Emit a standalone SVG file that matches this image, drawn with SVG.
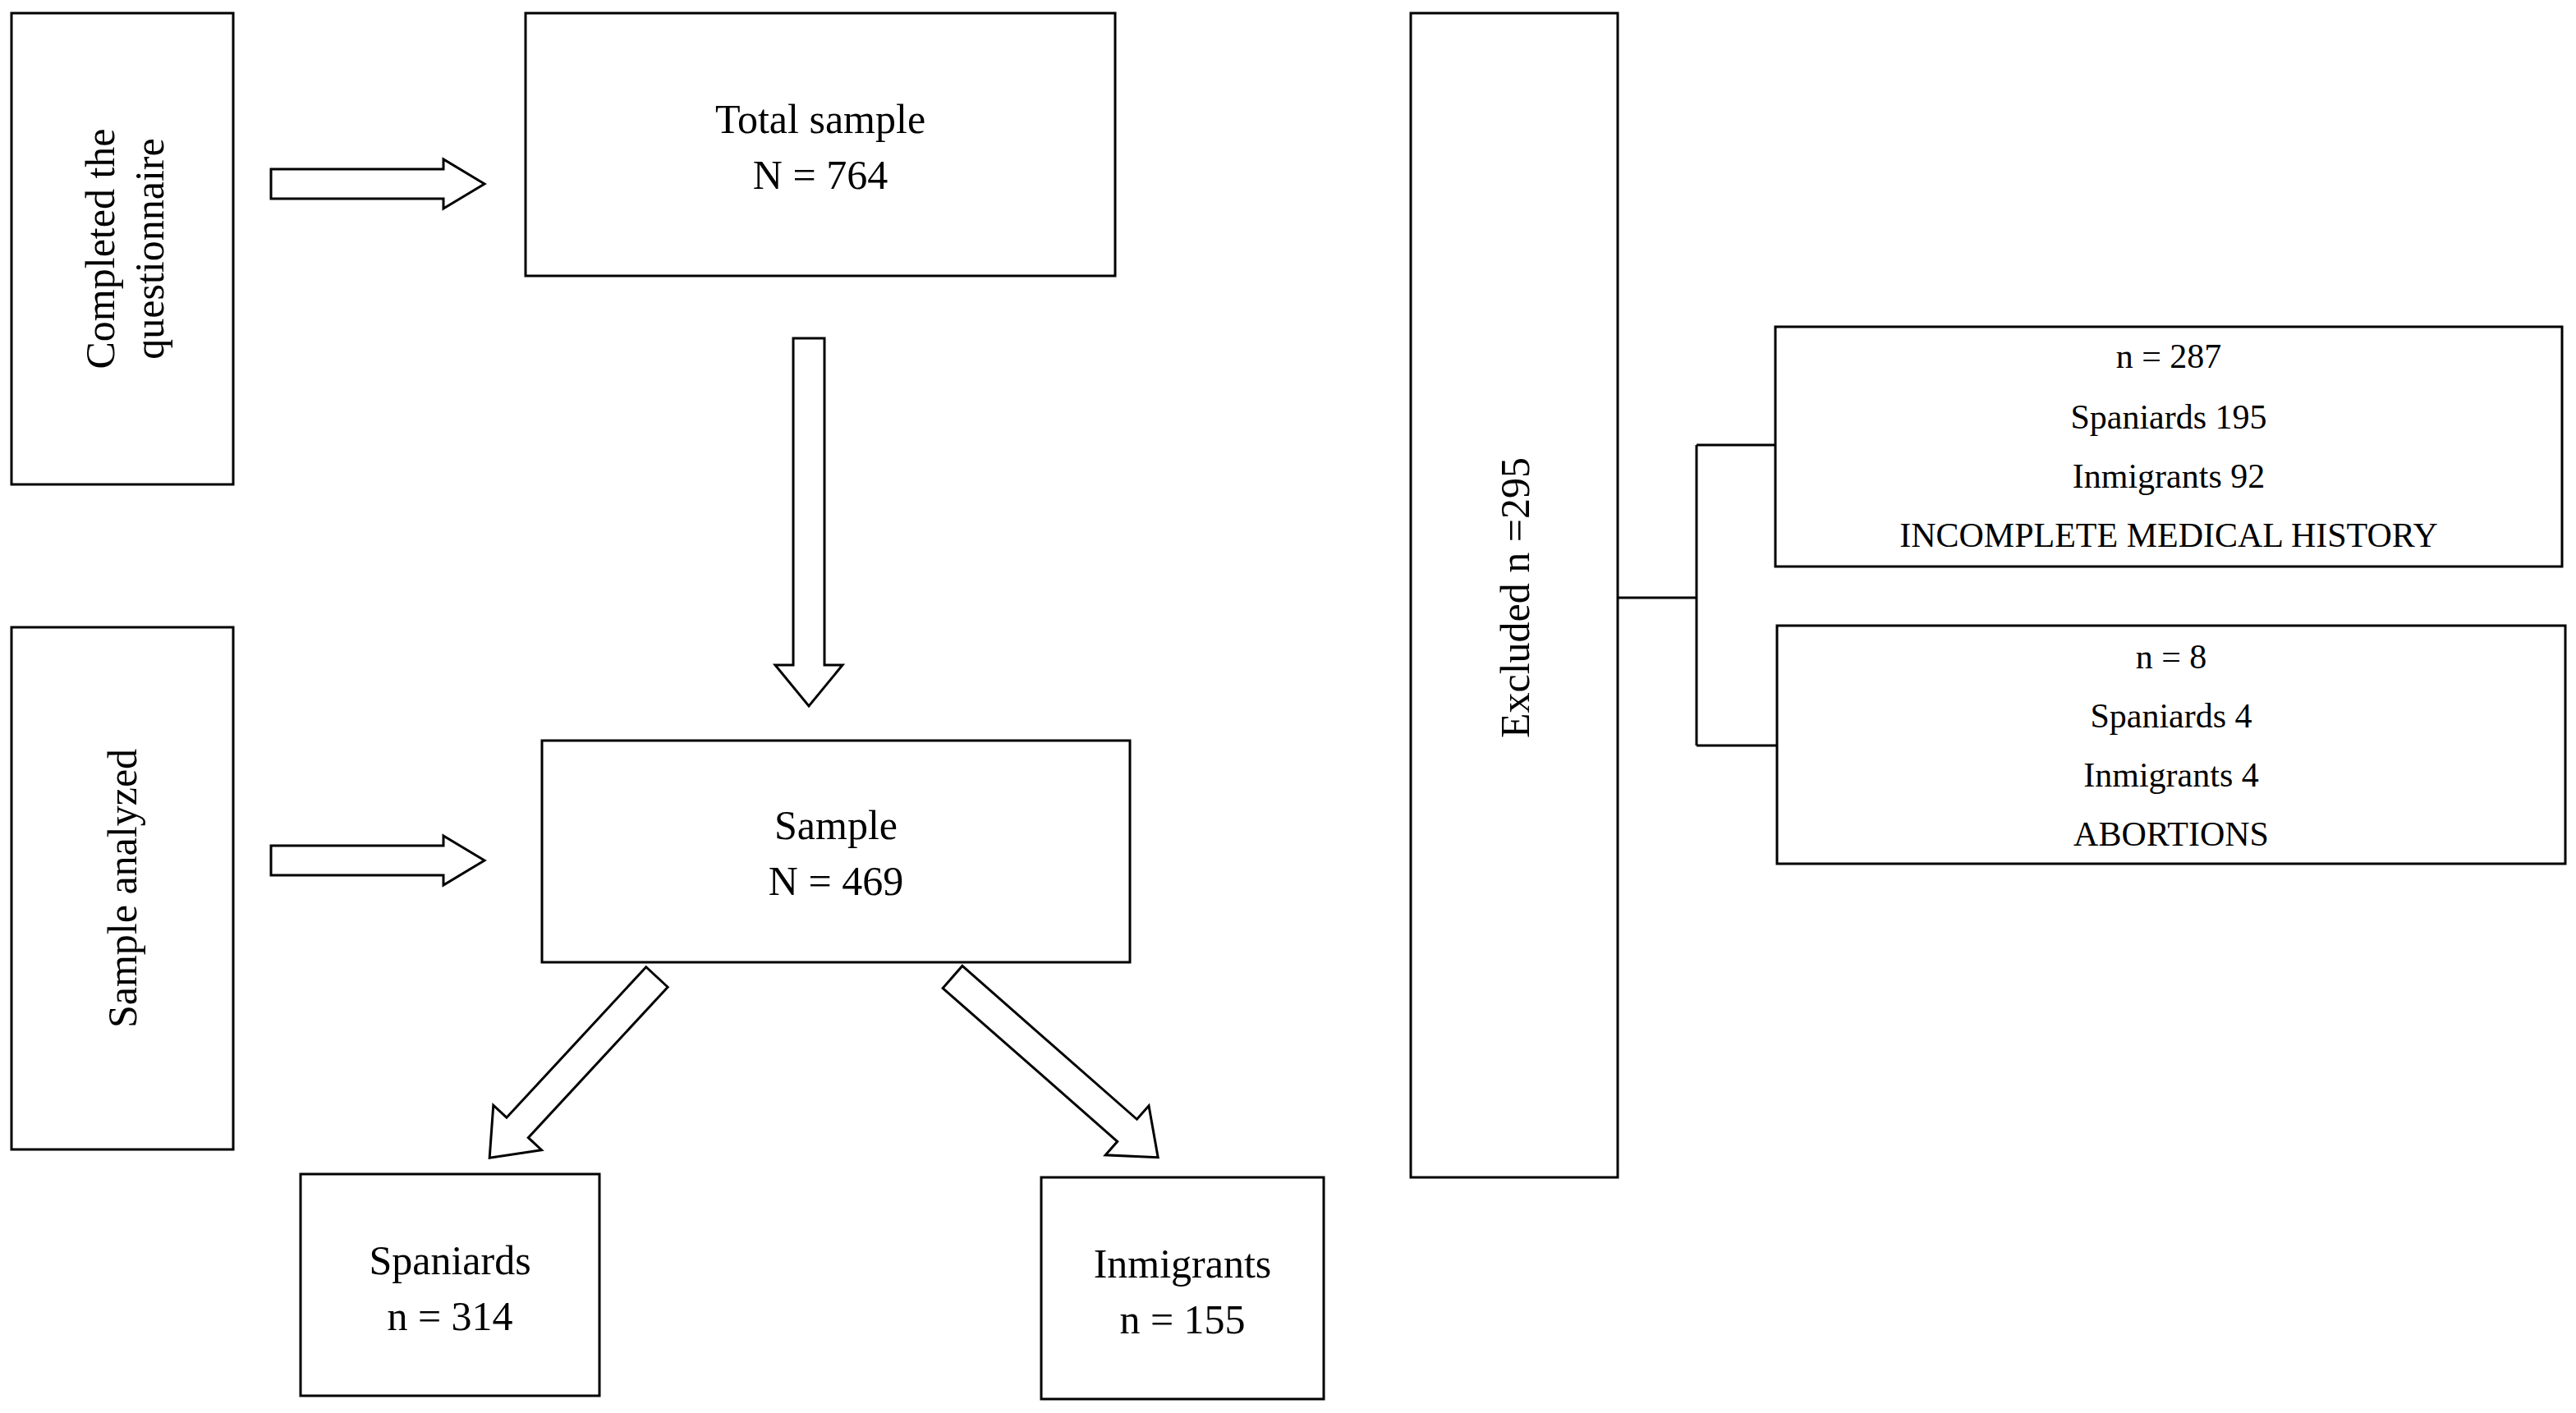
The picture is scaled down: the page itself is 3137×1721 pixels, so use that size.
<svg xmlns="http://www.w3.org/2000/svg" width="3137" height="1721" viewBox="0 0 3137 1721">
<style>
.b{fill:#fff;stroke:#000;stroke-width:3}
.a{fill:#fff;stroke:#000;stroke-width:3;stroke-linejoin:miter}
text{font-family:"Liberation Serif","Times New Roman",serif;fill:#000;text-anchor:middle}
.t{font-size:50px}
.s{font-size:42px}
.c{fill:none;stroke:#000;stroke-width:3}
</style>
<rect width="3137" height="1721" fill="#fff"/>
<g id="completed"><rect class="b" x="14" y="16" width="270" height="574"/>
<text class="t" transform="translate(149,303) rotate(-90)"><tspan x="0" y="-10">Completed the</tspan><tspan x="0" y="50">questionnaire</tspan></text></g>
<g id="total"><rect class="b" x="640" y="16" width="718" height="320"/>
<text class="t" x="999" y="162">Total sample</text><text class="t" x="999" y="230">N = 764</text></g>
<g id="analyzed"><rect class="b" x="14" y="764" width="270" height="636"/>
<text class="t" transform="translate(166,1082) rotate(-90)" x="0" y="0">Sample analyzed</text></g>
<g id="sample"><rect class="b" x="660" y="902" width="716" height="270"/>
<text class="t" x="1018" y="1022">Sample</text><text class="t" x="1018" y="1090">N = 469</text></g>
<g id="spaniards"><rect class="b" x="366" y="1430" width="364" height="270"/>
<text class="t" x="548" y="1552">Spaniards</text><text class="t" x="548" y="1620">n = 314</text></g>
<g id="inmigrants"><rect class="b" x="1268" y="1434" width="344" height="270"/>
<text class="t" x="1440" y="1556">Inmigrants</text><text class="t" x="1440" y="1624">n = 155</text></g>
<g id="excluded"><rect class="b" x="1718" y="16" width="252" height="1418"/>
<text class="t" transform="translate(1862,728) rotate(-90)" x="0" y="0">Excluded   n =295</text></g>
<g id="box1"><rect class="b" x="2162" y="398" width="958" height="292"/>
<text class="s" x="2641" y="448">n = 287</text><text class="s" x="2641" y="522">Spaniards  195</text><text class="s" x="2641" y="594">Inmigrants  92</text><text class="s" x="2641" y="666">INCOMPLETE MEDICAL HISTORY</text></g>
<g id="box2"><rect class="b" x="2164" y="762" width="960" height="290"/>
<text class="s" x="2644" y="814">n = 8</text><text class="s" x="2644" y="886">Spaniards  4</text><text class="s" x="2644" y="958">Inmigrants  4</text><text class="s" x="2644" y="1030">ABORTIONS</text></g>
<g id="connectors">
<polygon class="a" transform="translate(330,224)" points="0,-18 210,-18 210,-30 260,0 210,30 210,18 0,18"/>
<polygon class="a" transform="translate(330,1048)" points="0,-18 210,-18 210,-30 260,0 210,30 210,18 0,18"/>
<polygon class="a" transform="translate(985,412) rotate(90)" points="0,-19 398,-19 398,-41 448,0 398,41 398,19 0,19"/>
<polygon class="a" transform="translate(800,1190) rotate(132.8)" points="0,-18 250,-18 250,-40 300,0 250,40 250,18 0,18"/>
<polygon class="a" transform="translate(1160,1190) rotate(41.3)" points="0,-18 283,-18 283,-40 333,0 283,40 283,18 0,18"/>
<path class="c" d="M1970,728 H2066 M2066,542 V908 M2066,542 H2162 M2066,908 H2164"/>
</g>
</svg>
